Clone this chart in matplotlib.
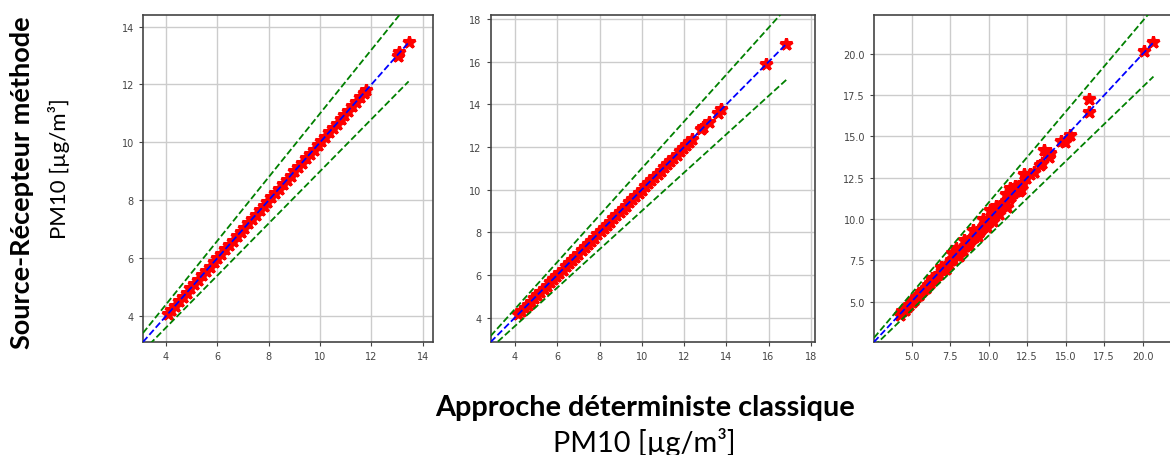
import numpy as np
import matplotlib.pyplot as plt

# Panel 1
x1 = [4.07, 4.2, 4.35, 4.5, 4.65, 4.8, 4.95, 5.1, 5.25, 5.4, 5.55, 5.7, 5.85, 6.0,
      6.15, 6.3, 6.45, 6.6, 6.75, 6.9, 7.05, 7.2, 7.35, 7.5, 7.65, 7.8, 7.95, 8.1,
      8.25, 8.4, 8.55, 8.7, 8.85, 9.0, 9.15, 9.3, 9.45, 9.6, 9.75, 9.9, 10.05, 10.2,
      10.35, 10.5, 10.65, 10.8, 10.95, 11.1, 11.25, 11.4, 11.55, 11.7, 11.8,
      13.05, 13.08, 13.45]
y1 = [4.07, 4.2, 4.35, 4.5, 4.65, 4.8, 4.95, 5.1, 5.25, 5.4, 5.55, 5.7, 5.85, 6.0,
      6.15, 6.3, 6.45, 6.6, 6.75, 6.9, 7.05, 7.2, 7.35, 7.5, 7.65, 7.8, 7.95, 8.1,
      8.25, 8.4, 8.55, 8.7, 8.85, 9.0, 9.15, 9.3, 9.45, 9.6, 9.75, 9.9, 10.05, 10.2,
      10.35, 10.5, 10.65, 10.8, 10.95, 11.1, 11.25, 11.4, 11.55, 11.7, 11.8,
      13.0, 13.12, 13.45]

# Panel 2
x2 = [4.15, 4.3, 4.45, 4.6, 4.75, 4.9, 5.05, 5.2, 5.35, 5.5, 5.65, 5.8, 5.95, 6.1,
      6.25, 6.4, 6.55, 6.7, 6.85, 7.0, 7.15, 7.3, 7.45, 7.6, 7.75, 7.9, 8.05, 8.2,
      8.35, 8.5, 8.65, 8.8, 8.95, 9.1, 9.25, 9.4, 9.55, 9.7, 9.85, 10.0, 10.15, 10.3,
      10.45, 10.6, 10.75, 10.9, 11.05, 11.2, 11.35, 11.5, 11.65, 11.8, 11.95, 12.1,
      12.25, 12.4, 12.8, 12.9, 13.2, 13.6, 13.75, 15.9, 16.85]
y2 = [4.15, 4.3, 4.45, 4.6, 4.75, 4.9, 5.05, 5.2, 5.35, 5.5, 5.65, 5.8, 5.95, 6.1,
      6.25, 6.4, 6.55, 6.7, 6.85, 7.0, 7.15, 7.3, 7.45, 7.6, 7.75, 7.9, 8.05, 8.2,
      8.35, 8.5, 8.65, 8.8, 8.95, 9.1, 9.25, 9.4, 9.55, 9.7, 9.85, 10.0, 10.15, 10.3,
      10.45, 10.6, 10.75, 10.9, 11.05, 11.2, 11.35, 11.5, 11.65, 11.8, 11.95, 12.1,
      12.25, 12.4, 12.85, 12.95, 13.2, 13.6, 13.8, 15.9, 16.85]

# Panel 3
x3 = [4.25, 4.4, 4.55, 4.7, 4.85, 5.0, 5.15, 5.3, 5.45, 5.6, 5.75, 5.9, 6.05, 6.2,
      6.35, 6.5, 6.65, 6.8, 6.95, 7.1, 7.25, 7.4, 7.55, 7.7, 7.85, 8.0, 8.15, 8.3,
      8.45, 8.6, 8.75, 8.9, 9.05, 9.2, 9.35, 9.5, 9.65, 9.8, 9.95, 10.1, 10.25, 10.4,
      10.55, 10.7, 10.85, 11.0, 11.15, 11.3, 11.45, 11.6, 11.75, 11.9, 12.05, 12.2,
      12.4, 12.7, 12.95, 13.3, 13.45, 13.6, 13.9, 14.0, 14.7, 14.95, 15.3, 16.5,
      16.5, 20.1, 20.7,
      6.3, 6.9, 7.2, 7.6, 7.9, 8.1, 8.4, 8.7, 9.0, 9.3, 9.6, 9.9, 10.1, 10.3, 10.5,
      10.7, 11.2, 11.1, 11.4, 11.7, 12.0, 12.1, 12.3]
y3 = [4.2, 4.4, 4.5, 4.7, 4.8, 5.0, 5.1, 5.3, 5.4, 5.55, 5.7, 5.85, 6.0, 6.15,
      6.3, 6.45, 6.6, 6.7, 6.9, 7.0, 7.2, 7.3, 7.5, 7.55, 7.8, 7.85, 8.1, 8.15,
      8.35, 8.5, 8.6, 8.85, 8.9, 9.1, 9.2, 9.4, 9.5, 9.75, 9.8, 10.0, 10.1, 10.35,
      10.4, 10.6, 10.8, 10.95, 11.1, 11.25, 11.4, 11.55, 11.7, 11.85, 12.0, 12.2,
      12.5, 12.75, 12.85, 13.3, 13.4, 14.2, 13.75, 14.0, 14.7, 14.65, 15.1, 17.3,
      16.5, 20.15, 20.7,
      6.45, 7.1, 6.95, 7.95, 8.25, 7.75, 8.75, 8.4, 9.35, 9.0, 10.0, 9.5, 10.55,
      9.9, 10.8, 10.3, 10.7, 11.5, 11.9, 12.0, 11.7, 11.8, 12.7]

panels = [(x1, y1), (x2, y2), (x3, y3)]
limits = [(3.1, 14.4), (2.85, 18.2), (2.55, 22.36)]
tick_sets = [[4, 6, 8, 10, 12, 14],
             [4, 6, 8, 10, 12, 14, 16, 18],
             [5.0, 7.5, 10.0, 12.5, 15.0, 17.5, 20.0]]
positions = [[0.1222, 0.2478, 0.2479, 0.7171],
             [0.4194, 0.2478, 0.2772, 0.7171],
             [0.7470, 0.2478, 0.2607, 0.7171]]

fig = plt.figure(figsize=(11.7, 4.56), dpi=100)

axes = []
for (x, y), (lo, hi), ticks, pos in zip(panels, limits, tick_sets, positions):
    ax = fig.add_axes(pos)
    ref = np.array([lo, max(x)])
    ax.plot(x, y, 'r*', markersize=9, markeredgewidth=2.2, zorder=3)
    ax.plot(ref, ref, 'b--', lw=1.3, zorder=4)
    ax.plot(ref, 1.1 * ref, 'g--', lw=1.3, zorder=4)
    ax.plot(ref, 0.9 * ref, 'g--', lw=1.3, zorder=4)
    ax.set_xlim(lo, hi)
    ax.set_ylim(lo, hi)
    ax.set_xticks(ticks)
    ax.set_yticks(ticks)
    if isinstance(ticks[0], float):
        ax.set_xticklabels([f"{t:.1f}" for t in ticks])
        ax.set_yticklabels([f"{t:.1f}" for t in ticks])
    ax.grid(True, color='#cccccc', lw=1.0, zorder=0)
    ax.tick_params(labelsize=7, colors='#444444', length=3)
    for s in ax.spines.values():
        s.set_color('#444444')
        s.set_linewidth(1.2)
    axes.append(ax)

# third panel runs past the right edge of the picture
axes[2].spines['right'].set_visible(False)

fig.text(0.019, 0.60, 'Source-Récepteur méthode', rotation=90, ha='center',
         va='center', fontsize=19.5, fontweight='bold', family='Lato')
fig.text(0.050, 0.63, 'PM10 [µg/m³]', rotation=90, ha='center', va='center',
         fontsize=16, family='Lato')
fig.text(0.551, 0.106, 'Approche déterministe classique', ha='center', va='center',
         fontsize=20.8, fontweight='bold', family='Lato')
fig.text(0.551, 0.030, 'PM10 [µg/m³]', ha='center', va='center', fontsize=20.8,
         family='Lato')

fig.savefig('out.png', dpi=100)
